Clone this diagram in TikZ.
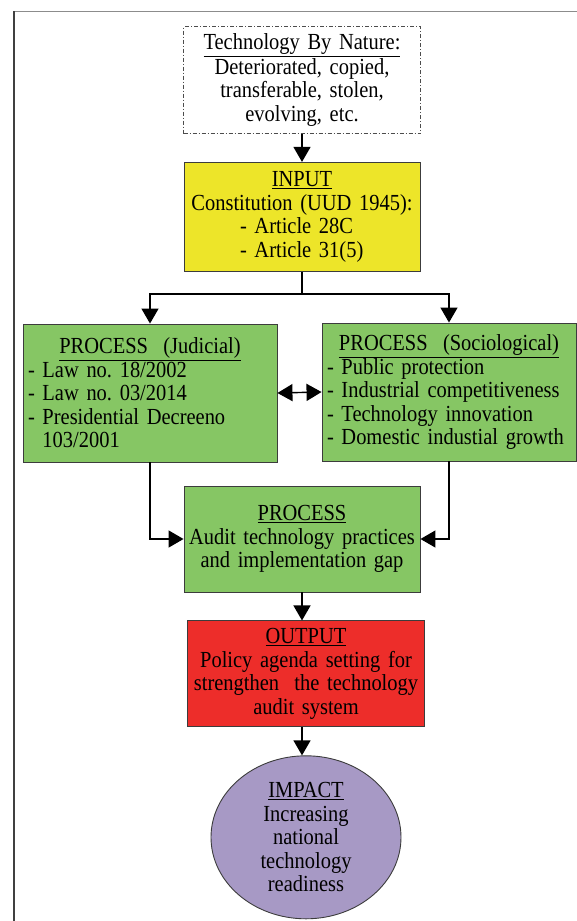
\documentclass[tikz,border=0pt]{standalone}
\usepackage{fontspec}
\setmainfont{Liberation Serif}[FakeStretch=0.89]
\usetikzlibrary{arrows.meta,positioning,shapes.geometric}
\definecolor{inyellow}{RGB}{237,229,41}
\definecolor{procgreen}{RGB}{134,198,100}
\definecolor{outred}{RGB}{237,45,42}
\definecolor{impurple}{RGB}{167,153,197}
\definecolor{boxline}{RGB}{60,60,60}
\tikzstyle{block} = [rectangle, draw=boxline, line width=0.9pt, inner xsep=5pt,
    inner ysep=0pt, text centered, font=\fontsize{23}{23.5}\selectfont\frenchspacing]
\tikzstyle{naturebox} = [block, draw=black!70, line width=0.8pt,
    dash pattern=on 4pt off 2pt on 1pt off 2pt, text width=227pt, minimum height=107pt]
\tikzstyle{inputbox} = [block, fill=inyellow, text width=226pt, minimum height=109pt]
\tikzstyle{procbox} = [block, fill=procgreen, text width=244pt, minimum height=138pt, align=left]
\tikzstyle{auditbox} = [block, fill=procgreen, text width=226pt, minimum height=106pt]
\tikzstyle{outputbox} = [block, fill=outred, text width=227pt, minimum height=106pt]
\tikzstyle{impactbox} = [ellipse, draw=boxline, line width=0.9pt, fill=impurple,
    minimum width=190pt, minimum height=163pt, inner sep=0pt, align=center,
    font=\fontsize{23}{23.5}\selectfont]
\tikzstyle{flow} = [-{Triangle[width=17pt,length=15pt]}, line width=1.4pt, black]
\tikzstyle{flowboth} = [{Triangle[width=17pt,length=15pt]}-{Triangle[width=17pt,length=15pt]}, line width=1.4pt, black]

\begin{document}
\begin{tikzpicture}
  \useasboundingbox (0,0) rectangle (577pt,-921pt);
  % page frame
  \draw[black!45,line width=1pt] (14pt,-11pt) -- (577pt,-11pt);
  \draw[black!75,line width=1.2pt] (14pt,-11pt) -- (14pt,-921pt);

  \node[naturebox] (nature) at (302pt,-80pt)
    {\underline{Technology By Nature:}\\[1pt] Deteriorated, copied,\\ transferable, stolen,\\ evolving, etc.};
  \node[inputbox] (input) [below=28pt of nature]
    {\underline{INPUT}\\ Constitution (UUD 1945):\\ \makebox[124pt][l]{- Article 28C}\\ \makebox[124pt][l]{- Article 31(5)}};
  \node[procbox] (judicial) at (150pt,-393pt)
    {{\centering\underline{PROCESS\ \ (Judicial)}\par}
     - Law no. 18/2002\\ - Law no. 03/2014\\ - Presidential Decreeno\\ \phantom{- }103/2001};
  \node[procbox] (socio) at (449pt,-392pt)
    {{\centering\underline{PROCESS\ \ (Sociological)}\par}
     - Public protection\\ - Industrial competitiveness\\ - Technology innovation\\ - Domestic industial growth};
  \node[auditbox] (audit) at (302pt,-539pt)
    {\underline{PROCESS}\\ Audit technology practices\\ and implementation gap};
  \node[outputbox] (output) [below=28pt of audit, xshift=4pt]
    {\underline{OUTPUT}\\ Policy agenda setting for\\ strengthen\ \ the technology\\ audit system};
  \node[impactbox] (impact) [below=28pt of output]
    {\underline{IMPACT}\\ Increasing\\ national\\ technology\\ readiness};

  \draw[flow] (nature) -- (input);
  \draw[flow] (input.south) -- ++(0,-22pt) -| (judicial.north);
  \draw[flow] (input.south) -- ++(0,-22pt) -| (socio.north);
  \draw[flowboth] (judicial.east) -- (socio.west);
  \draw[flow] (judicial.south) |- (audit.west);
  \draw[flow] (socio.south) |- (audit.east);
  \draw[flow] (audit.south) -- (audit.south |- output.north);
  \draw[flow] (audit.south |- output.south) -- (audit.south |- impact.north);
\end{tikzpicture}
\end{document}
